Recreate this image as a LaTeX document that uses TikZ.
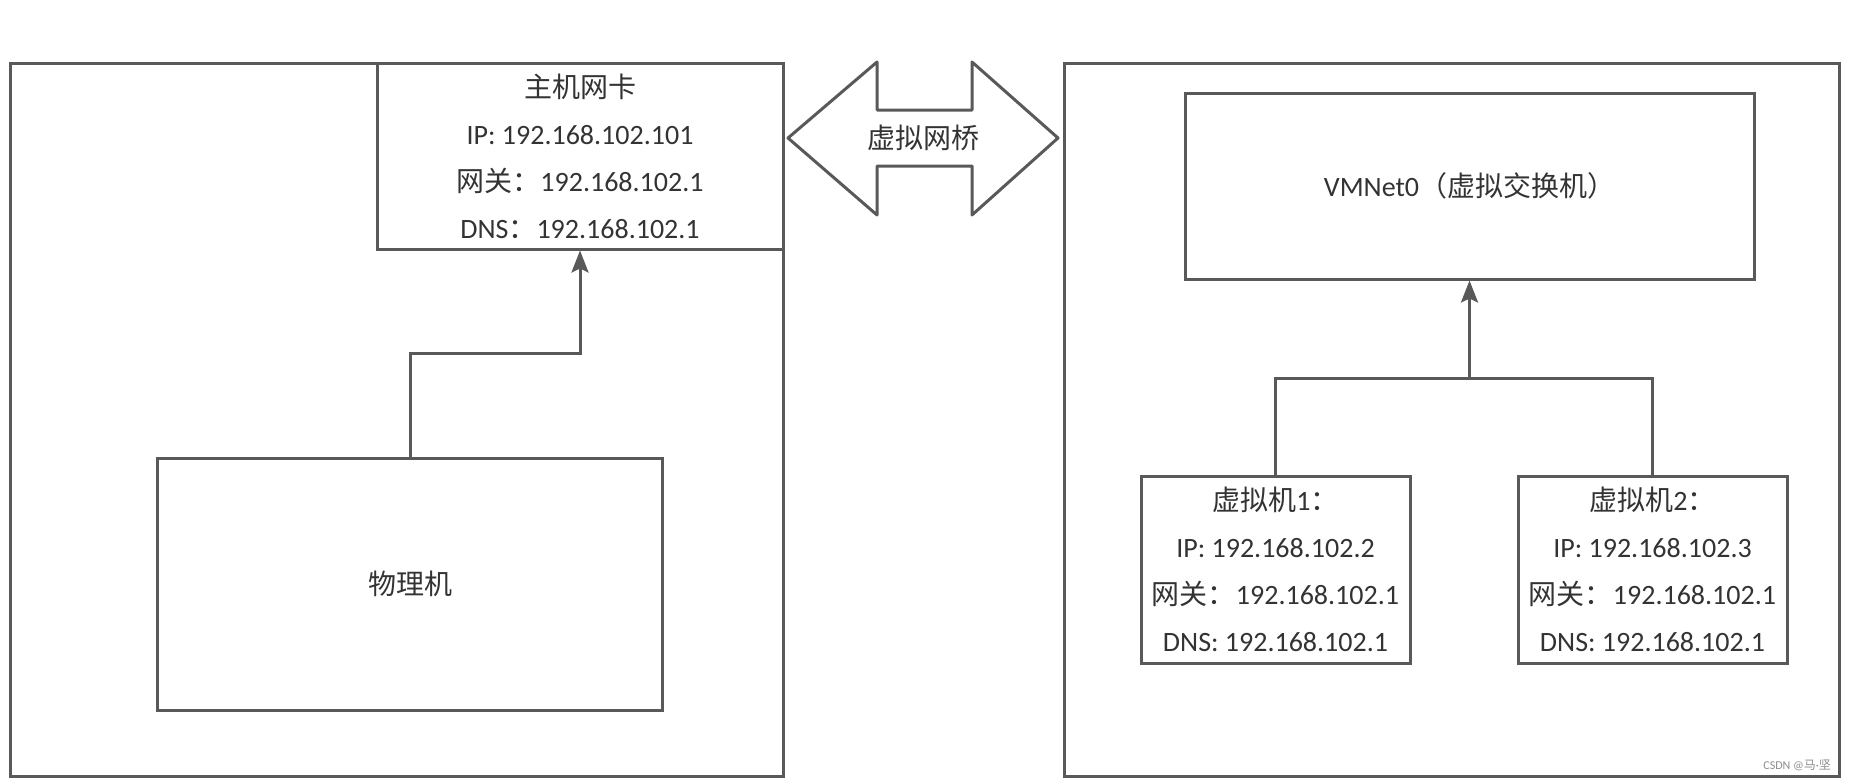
\documentclass[tikz,border=0pt]{standalone}
\usepackage{fontspec}
\setmainfont{Carlito}
\newfontfamily\cjk{Noto Sans CJK SC}
\usetikzlibrary{arrows.meta,positioning}
\definecolor{linegray}{HTML}{595959}
\definecolor{textgray}{HTML}{333333}

\begin{document}
\begin{tikzpicture}[x=0.5pt, y=-0.5pt,
    box/.style={draw=linegray, rectangle, line width=1.5pt, inner sep=0pt, align=center,
      text=textgray, font=\fontsize{14}{23.5}\selectfont},
    link/.style={draw=linegray, line width=1.5pt},
    >={Stealth[length=11pt, width=8.5pt, inset=2pt]}]
  \useasboundingbox (0,0) rectangle (1852,782);

  % host side
  \node[box, minimum width=386.5pt, minimum height=356.5pt] (host) at (396.5,419.5) {};
  \node[box, minimum width=203pt, minimum height=93pt] (nic) at (580,156)
    {{\cjk 主机网卡}\\IP: 192.168.102.101\\{\cjk 网关：}192.168.102.1\\DNS{\cjk ：}192.168.102.1};
  \node[box, minimum width=252.5pt, minimum height=126pt] (pc) at (410,584) {\cjk 物理机};
  \coordinate (bend) at (410,353);
  \draw[link, ->] (pc.north) -- (bend) -| (nic.south);

  % bridge
  \draw[link, line join=round] (788,138) -- (877,62) -- (877,110) -- (972,110) -- (972,62)
    -- (1058,138) -- (972,215) -- (972,166) -- (877,166) -- (877,215) -- cycle;
  \node[text=textgray, font=\fontsize{14}{16}\selectfont\cjk] (bridge) at (923,138) {虚拟网桥};

  % virtual side
  \node[box, minimum width=387.5pt, minimum height=356.5pt] (guest) at (1451.5,419.5) {};
  \node[box, minimum width=284.5pt, minimum height=93pt] (vmnet) at (1469.5,186)
    {VMNet0{\cjk （虚拟交换机）}};
  \node[box, minimum width=134.5pt, minimum height=93.5pt] (vm1) at (1275.5,569.5)
    {{\cjk 虚拟机}1{\cjk ：}\\IP: 192.168.102.2\\{\cjk 网关：}192.168.102.1\\DNS: 192.168.102.1};
  \node[box, minimum width=134.5pt, minimum height=93.5pt, right=52.5pt of vm1] (vm2)
    {{\cjk 虚拟机}2{\cjk ：}\\IP: 192.168.102.3\\{\cjk 网关：}192.168.102.1\\DNS: 192.168.102.1};
  \coordinate (hub) at (1469.5,378);
  \draw[link] (vm1.north) |- (hub) -| (vm2.north);
  \draw[link, ->] (hub) -- (vmnet.south);

  % watermark
  \node[text=black!45, font=\fontsize{6}{7}\selectfont, anchor=east] (mark) at (1838,765)
    {CSDN @{\cjk 马}·{\cjk 坚}};
\end{tikzpicture}
\end{document}
